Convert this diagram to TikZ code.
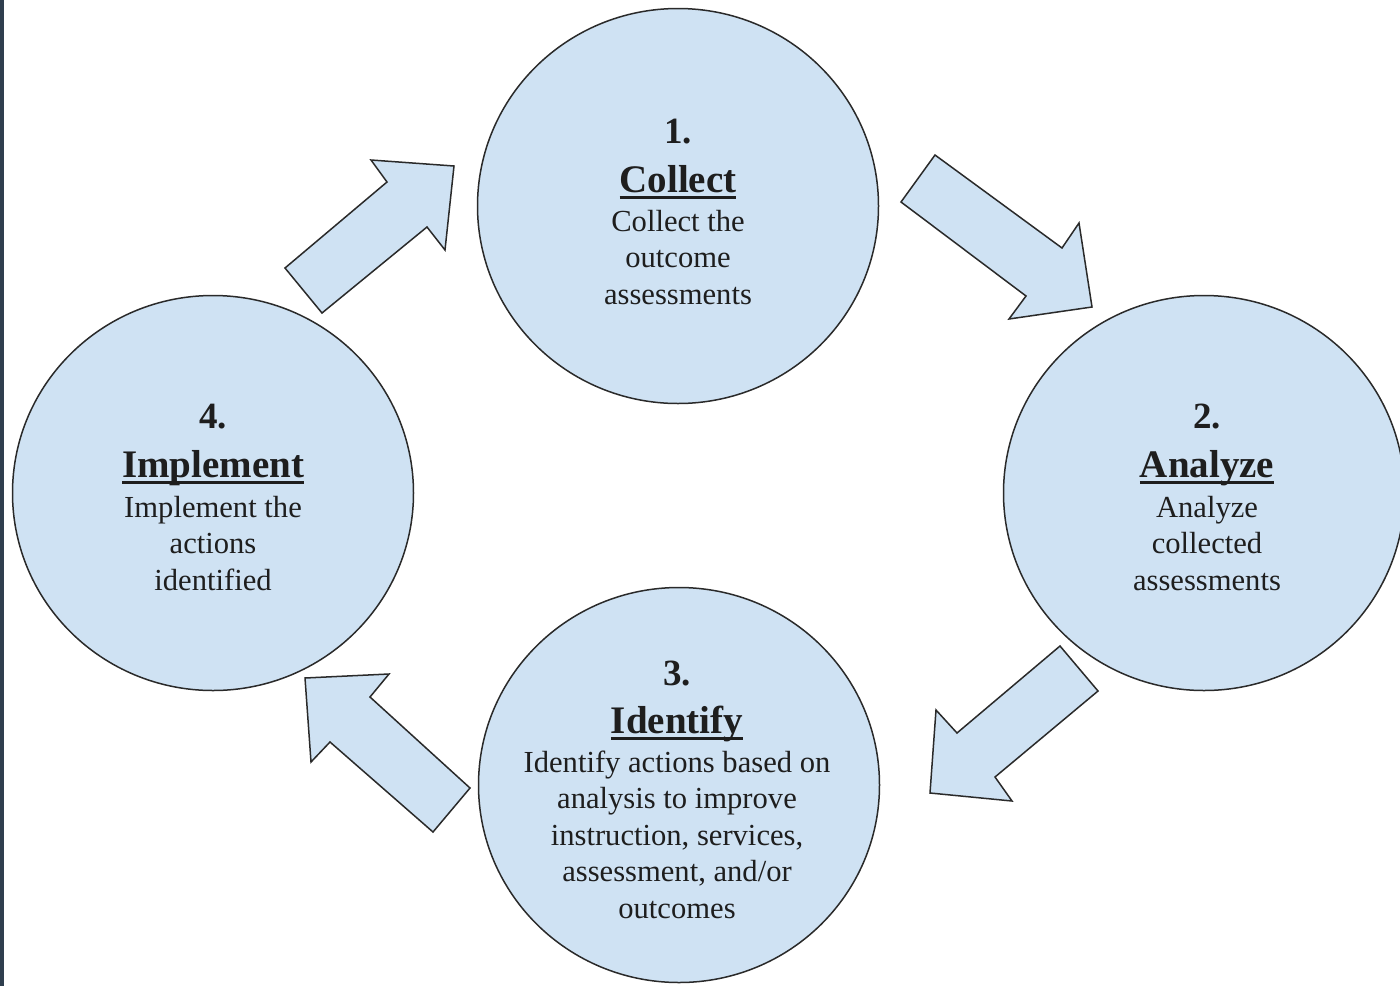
\documentclass[tikz,border=0pt]{standalone}
\usepackage{fontspec}
\setmainfont{Liberation Serif}
\usetikzlibrary{shapes.geometric}
\definecolor{fillblue}{HTML}{CFE2F3}
\definecolor{edgecol}{HTML}{2A2A2A}
\definecolor{stripcol}{HTML}{2F3E4E}
\definecolor{textcol}{HTML}{1E1E1E}
\newcommand\ttlul[1]{\setbox0\hbox{#1}\rlap{\rule[-6.5pt]{\wd0}{2.6pt}}\box0}
\begin{document}
\begin{tikzpicture}[x=1pt,y=-1pt,
  stage/.style={ellipse, draw=edgecol, line width=1.5pt, fill=fillblue,
    minimum width=401pt, minimum height=395pt, inner sep=0pt},
  blockarrow/.style={draw=edgecol, line width=1.5pt, fill=fillblue, line join=miter},
  numtxt/.style={anchor=base, inner sep=0pt, text=textcol,
    font=\fontsize{37}{37}\selectfont\bfseries},
  ttltxt/.style={anchor=base, inner sep=0pt, text=textcol,
    font=\fontsize{39}{39}\selectfont\bfseries},
  bodytxt/.style={anchor=base, inner sep=0pt, text=textcol,
    font=\fontsize{30.6}{36}\selectfont}]

\fill[white] (0,0) rectangle (1400,986);
\fill[stripcol] (0,0) rectangle (4,986);
\useasboundingbox (0,0) rectangle (1400,986);

% stages
\node[stage] (c1) at (678,206) {};
\node[stage] (c2) at (1204,493) {};
\node[stage] (c3) at (679,785) {};
\node[stage] (c4) at (213,493) {};

% block arrows
\draw[blockarrow] (285,268) -- (322,313) -- (427,227) -- (445,250) -- (454,166) -- (371,160) -- (387,182) -- cycle;
\draw[blockarrow] (935,155) -- (901,202) -- (1026,296) -- (1009,319) -- (1092,307) -- (1079,223) -- (1062,248) -- cycle;
\draw[blockarrow] (1060,646) -- (1098,691) -- (995,777) -- (1012,801) -- (930,793) -- (936,710) -- (957,733) -- cycle;
\draw[blockarrow] (470,788) -- (433,832) -- (330,742) -- (311,762) -- (305,678) -- (389,674) -- (370,697) -- cycle;

% texts: 1
\node[numtxt] (n1) at (678,143) {1.};
\node[ttltxt] (h1) at (678,192) {\ttlul{Collect}};
\node[bodytxt] (b1a) at (678,231) {Collect the};
\node[bodytxt] (b1b) at (678,267.5) {outcome};
\node[bodytxt] (b1c) at (678,304) {assessments};

% texts: 2
\node[numtxt] (n2) at (1207,428) {2.};
\node[ttltxt] (h2) at (1207,477) {\ttlul{Analyze}};
\node[bodytxt] (b2a) at (1207,517) {Analyze};
\node[bodytxt] (b2b) at (1207,553.5) {collected};
\node[bodytxt] (b2c) at (1207,590) {assessments};

% texts: 3
\node[numtxt] (n3) at (677,685) {3.};
\node[ttltxt] (h3) at (677,733) {\ttlul{Identify}};
\node[bodytxt] (b3a) at (677,772) {Identify actions based on};
\node[bodytxt] (b3b) at (677,808.5) {analysis to improve};
\node[bodytxt] (b3c) at (677,845) {instruction, services,};
\node[bodytxt] (b3d) at (677,881.5) {assessment, and/or};
\node[bodytxt] (b3e) at (677,918) {outcomes};

% texts: 4
\node[numtxt] (n4) at (213,428) {4.};
\node[ttltxt] (h4) at (213,477) {\ttlul{Implement}};
\node[bodytxt] (b4a) at (213,517) {Implement the};
\node[bodytxt] (b4b) at (213,553.5) {actions};
\node[bodytxt] (b4c) at (213,590) {identified};
\end{tikzpicture}
\end{document}
